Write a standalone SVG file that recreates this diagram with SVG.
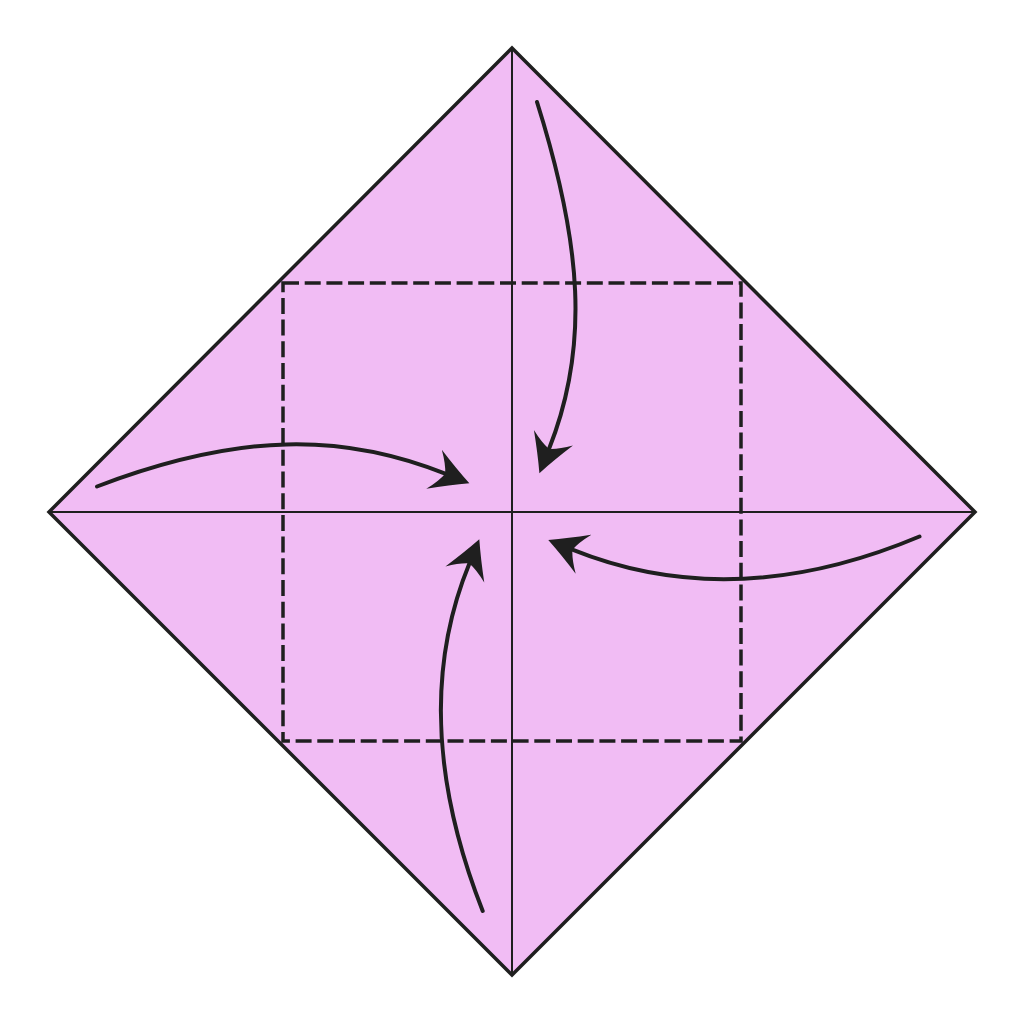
<svg xmlns="http://www.w3.org/2000/svg" width="1024" height="1024" viewBox="0 0 1024 1024">
  <defs>
    <style>
      .paper { fill: #f1bcf4; stroke: #1f1f1f; stroke-width: 3.5; stroke-linejoin: miter; }
      .crease { stroke: #1f1f1f; stroke-width: 2; fill: none; }
      .dash { stroke: #1f1f1f; stroke-width: 3.5; fill: none; stroke-dasharray: 16 5.7; }
      .arrow { stroke: #1f1f1f; stroke-width: 4; fill: none; stroke-linecap: round; marker-end: url(#head); }
    </style>
    <marker id="head" markerUnits="userSpaceOnUse" viewBox="0 -22 40 44" markerWidth="40" markerHeight="44" refX="12" refY="0" orient="auto">
      <path d="M38,0 Q20,-9 0,-21 Q9,-9 12,0 Q9,9 0,21 Q20,9 38,0 Z" fill="#1f1f1f"/>
    </marker>
  </defs>
  <rect width="1024" height="1024" fill="#ffffff"/>
  <g id="paper">
    <polygon class="paper" points="512,48 975,512 512,975 49,512"/>
  </g>
  <g id="creases">
    <line class="crease" x1="512" y1="48" x2="512" y2="975"/>
    <line class="crease" x1="49" y1="512" x2="975" y2="512"/>
  </g>
  <g id="fold-square">
    <path class="dash" d="M283,283 H741 V741 H283 Z"/>
  </g>
  <g id="connectors">
    <path class="arrow" d="M537,102 C582,245 589.6,346.8 549,449"/>
    <path class="arrow" d="M97,486.5 C240,432 343,433 445.2,473.7"/>
    <path class="arrow" d="M482.7,911 C432,782 427.5,665.2 469.4,563.4"/>
    <path class="arrow" d="M919.5,536.5 C790,591 674.4,590.8 572.4,549.7"/>
  </g>
</svg>
